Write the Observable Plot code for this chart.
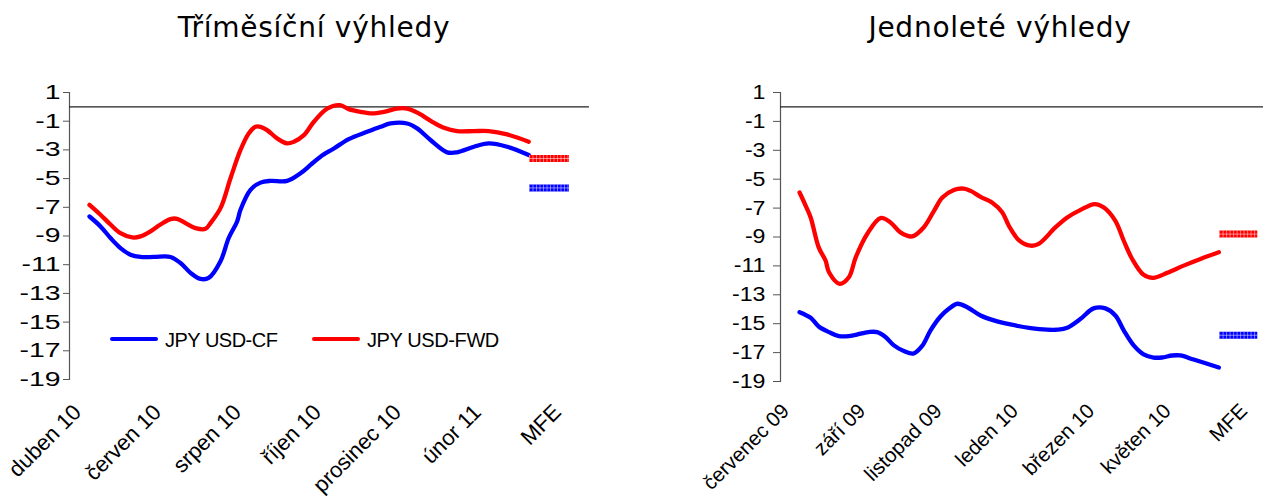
<!DOCTYPE html>
<html>
<head>
<meta charset="utf-8">
<script src="https://cdn.jsdelivr.net/npm/d3@7"></script>
<script src="https://cdn.jsdelivr.net/npm/@observablehq/plot@0.6"></script>
<style>
  body { margin: 0; background: #fff; }
  #wrap { position: relative; width: 1263px; height: 498px; overflow: hidden; background: #fff; }
  .panel { position: absolute; top: 0; height: 498px; }
  .title { position: absolute; top: 0; text-align: center; font-family: "DejaVu Sans", Verdana, sans-serif; font-size: 28px; letter-spacing: 0.75px; line-height: 28px; padding-top: 14px; color: #000; white-space: nowrap; width: 600px; }
  .plot { position: absolute; top: 60px; left: 0; }
  .leg { position: absolute; font-family: "Liberation Sans", Arial, sans-serif; font-size: 20px; line-height: 20px; color: #000; white-space: nowrap; }
  .legline { position: absolute; height: 4px; border-radius: 2px; }
</style>
</head>
<body>
<div id="wrap">
  <div class="panel" id="p3" style="left:0;width:631px;">
    <div class="title" style="left:14px;">Tříměsíční výhledy</div>
  </div>
  <div class="panel" id="p12" style="left:631px;width:632px;">
    <div class="title" style="left:69px;">Jednoleté výhledy</div>
  </div>
</div>
<script>
// ---------- data ----------
const yTicks = [1, -1, -3, -5, -7, -9, -11, -13, -15, -17, -19];
const seriesNames = ["JPY USD-CF", "JPY USD-FWD"];

// Tříměsíční výhledy (x = month index from "duben 10")
const xLabels3 = ["duben 10", "červen 10", "srpen 10", "říjen 10", "prosinec 10", "únor 11", "MFE"];
const xTicks3 = [0, 2, 4, 6, 8, 10, 12];
const cf3X = [0, 0.275, 0.525, 0.775, 1.025, 1.275, 1.61, 2.025, 2.275, 2.525, 2.775, 2.98, 3.275, 3.48, 3.69, 3.775, 4.025, 4.275, 4.525, 4.94, 5.275, 5.525, 5.775, 6.11, 6.48, 6.94, 7.275, 7.525, 7.94, 8.19, 8.525, 8.94, 9.19, 9.61, 9.98, 10.44, 10.98];
const cf3Y = [-7.64, -8.33, -9.14, -9.84, -10.3, -10.46, -10.46, -10.46, -10.88, -11.57, -11.99, -11.92, -10.76, -9.14, -7.99, -7.17, -5.78, -5.28, -5.16, -5.16, -4.63, -4.05, -3.47, -2.9, -2.25, -1.74, -1.39, -1.16, -1.16, -1.5, -2.31, -3.17, -3.17, -2.78, -2.55, -2.78, -3.36];
const fwd3X = [0, 0.275, 0.525, 0.775, 1.07, 1.275, 1.525, 1.775, 2.025, 2.19, 2.4, 2.65, 2.9, 3.025, 3.275, 3.525, 3.775, 3.98, 4.15, 4.275, 4.44, 4.69, 4.94, 5.11, 5.36, 5.61, 5.94, 6.26, 6.48, 6.775, 7.07, 7.36, 7.69, 7.94, 8.23, 8.57, 8.86, 9.19, 9.61, 9.98, 10.44, 10.98];
const fwd3Y = [-6.83, -7.52, -8.2, -8.8, -9.1, -9.03, -8.68, -8.2, -7.82, -7.8, -8.1, -8.45, -8.5, -8.1, -7.06, -4.98, -3.0, -1.85, -1.39, -1.39, -1.62, -2.2, -2.55, -2.43, -1.97, -1.04, -0.12, 0.12, -0.16, -0.35, -0.46, -0.35, -0.12, -0.12, -0.46, -1.04, -1.46, -1.69, -1.69, -1.69, -1.92, -2.43];
const mfe3 = [-5.65, -3.6];   // CF, FWD
const mfeSpan3 = [11, 12];

// Jednoleté výhledy (x = month index from "červenec 09")
const xLabels12 = ["červenec 09", "září 09", "listopad 09", "leden 10", "březen 10", "květen 10", "MFE"];
const xTicks12 = [0, 2, 4, 6, 8, 10, 12];
const cf12X = [0, 0.29, 0.5, 0.77, 1.03, 1.29, 1.6, 1.81, 2.03, 2.25, 2.47, 2.73, 2.98, 3.21, 3.43, 3.69, 3.91, 4.13, 4.39, 4.74, 5.09, 5.52, 6.05, 6.48, 6.75, 7.01, 7.36, 7.7, 8.01, 8.27, 8.49, 8.75, 9.01, 9.27, 9.49, 9.76, 9.97, 10.32, 10.98];
const cf12Y = [-14.2, -14.59, -15.19, -15.58, -15.86, -15.86, -15.69, -15.58, -15.58, -15.92, -16.5, -16.89, -17.07, -16.54, -15.46, -14.5, -13.97, -13.62, -13.86, -14.43, -14.77, -15.05, -15.3, -15.41, -15.41, -15.28, -14.66, -13.94, -13.94, -14.43, -15.46, -16.5, -17.12, -17.34, -17.34, -17.2, -17.2, -17.48, -18.03];
const fwd12X = [0, 0.16, 0.29, 0.5, 0.68, 0.77, 1.05, 1.29, 1.47, 1.77, 2.12, 2.38, 2.64, 2.95, 3.25, 3.52, 3.74, 4.04, 4.3, 4.48, 4.74, 5.04, 5.31, 5.48, 5.74, 6.05, 6.26, 6.7, 7.01, 7.36, 7.73, 7.97, 8.27, 8.49, 8.71, 9.01, 9.26, 9.63, 10.06, 10.5, 10.98];
const fwd12Y = [-5.92, -6.84, -7.65, -9.72, -10.63, -11.44, -12.24, -11.79, -10.41, -8.79, -7.69, -7.99, -8.68, -8.96, -8.34, -7.19, -6.27, -5.74, -5.65, -5.81, -6.22, -6.61, -7.3, -8.22, -9.21, -9.6, -9.48, -8.34, -7.65, -7.12, -6.72, -6.96, -7.88, -9.26, -10.52, -11.62, -11.83, -11.48, -10.98, -10.52, -10.06];
const mfe12 = [-15.8, -8.8];  // CF, FWD
const mfeSpan12 = [11, 12];

const colors = ["#0000FF", "#FF0000"];

// ---------- chart builder ----------
function build({width, marginLeft, marginRight, marginBottom, xDomain, xTicks, xLabels, cfX, cfY, fwdX, fwdY, mfe, mfeSpan, dxLab, xFont, xPad, ySize, yPad, yStretch}) {
  const cf = cfX.map((x, i) => ({x, y: cfY[i]}));
  const fwd = fwdX.map((x, i) => ({x, y: fwdY[i]}));
  const mfeRows = mfe.map((v, i) => ({y: v, x1: mfeSpan[0], x2: mfeSpan[1], c: colors[i]}));
  const svg = Plot.plot({
    width, height: 438,
    marginTop: 32, marginBottom, marginLeft, marginRight,
    style: {fontFamily: "'Liberation Sans', Arial, sans-serif", fontSize: "20px", color: "#000", background: "#fff", overflow: "visible"},
    x: {type: "linear", domain: xDomain, axis: null},
    y: {domain: [-19, 1], axis: null},
    marks: [
      Plot.frame({anchor: "left", stroke: "#555", strokeWidth: 1.2}),
      Plot.axisY({ticks: yTicks, tickFormat: d => String(d), tickSize: ySize, tickPadding: yPad, stroke: "#555", label: null, fontSize: 20, ariaLabel: "y-axis"}),
      Plot.axisX({ticks: xTicks, tickFormat: (d, i) => xLabels[i], tickSize: 0, tickPadding: xPad, tickRotate: -45, dx: dxLab, label: null, fontSize: xFont}),
      Plot.ruleY([0], {stroke: "#222", strokeWidth: 1.2}),
      Plot.line(cf, {x: "x", y: "y", stroke: colors[0], strokeWidth: 4.3, curve: "catmull-rom", strokeLinejoin: "round", strokeLinecap: "round"}),
      Plot.line(fwd, {x: "x", y: "y", stroke: colors[1], strokeWidth: 4.3, curve: "catmull-rom", strokeLinejoin: "round", strokeLinecap: "round"}),
      Plot.ruleY(mfeRows, {y: "y", x1: "x1", x2: "x2", stroke: "c", strokeWidth: 7}),
      Plot.ruleY(mfeRows, {y: "y", x1: "x1", x2: "x2", stroke: "#fff", strokeWidth: 7, strokeDasharray: "1 2.5", strokeOpacity: 0.45}),
      Plot.ruleY(mfeRows, {y: "y", x1: "x1", x2: "x2", stroke: "#fff", strokeWidth: 1, strokeOpacity: 0.5})
    ]
  });
  // the reference's y tick labels are horizontally stretched: widen them about their right end
  d3.select(svg).selectAll("g[aria-label='y-axis tick label'] text").each(function() {
    const t = this.getAttribute("transform") || "";
    const x = +this.getAttribute("x") || 0;
    this.setAttribute("transform", `${t} translate(${x},0) scale(${yStretch},1) translate(${-x},0)`);
  });
  return svg;
}

const c3 = build({width: 631, marginLeft: 69, marginRight: 42, marginBottom: 119, xDomain: [-0.5, 12.5],
  xTicks: xTicks3, xLabels: xLabels3, cfX: cf3X, cfY: cf3Y, fwdX: fwd3X, fwdY: fwd3Y, mfe: mfe3, mfeSpan: mfeSpan3,
  dxLab: -12, xFont: 22, xPad: 29, ySize: 6, yPad: 3, yStretch: 1.42});
c3.classList.add("plot");
document.getElementById("p3").appendChild(c3);

const c12 = build({width: 632, marginLeft: 149, marginRight: 0, marginBottom: 117, xDomain: [-0.5, 12.15],
  xTicks: xTicks12, xLabels: xLabels12, cfX: cf12X, cfY: cf12Y, fwdX: fwd12X, fwdY: fwd12Y, mfe: mfe12, mfeSpan: mfeSpan12,
  dxLab: -14, xFont: 20.5, xPad: 26, ySize: 7, yPad: 8, yStretch: 1.16});
c12.classList.add("plot");
document.getElementById("p12").appendChild(c12);

// legend (inside left panel)
const p3 = document.getElementById("p3");
const legPos = [{line: 110, text: 165, ls: -0.5}, {line: 312, text: 367, ls: -0.4}];
seriesNames.forEach((name, i) => {
  const l = document.createElement("div");
  l.className = "legline";
  l.style.cssText = `left:${legPos[i].line}px;top:337px;width:48px;background:${colors[i]};`;
  p3.appendChild(l);
  const t = document.createElement("div");
  t.className = "leg";
  t.style.cssText = `left:${legPos[i].text}px;top:330px;letter-spacing:${legPos[i].ls}px;`;
  t.textContent = name;
  p3.appendChild(t);
});
</script>
</body>
</html>
